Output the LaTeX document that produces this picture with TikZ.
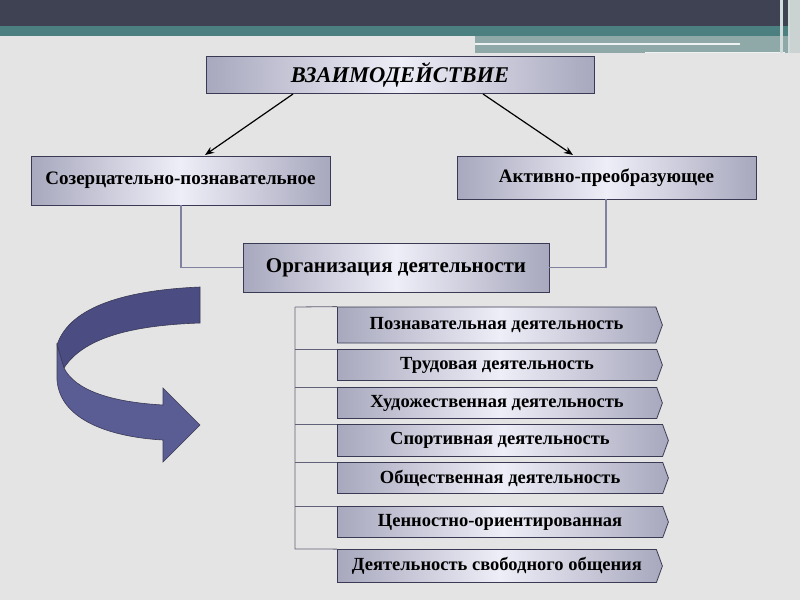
\documentclass[tikz,border=0pt]{standalone}
\usepackage{fontspec}
\setmainfont{Liberation Serif}
\usetikzlibrary{shapes.symbols,arrows.meta}
\definecolor{bg}{HTML}{E4E4E4}
\definecolor{band}{HTML}{3F4252}
\definecolor{teal}{HTML}{4B7F80}
\definecolor{lteal}{HTML}{8FA8A8}
\definecolor{edge}{HTML}{3A3A55}
\definecolor{boxside}{HTML}{A8A8BE}
\definecolor{boxmid}{HTML}{EEEEF8}
\definecolor{conn}{HTML}{8080A0}
\definecolor{arrA}{HTML}{4A4C82}
\definecolor{arrB}{HTML}{5A5C94}
\begin{document}
\begin{tikzpicture}[x=1pt,y=-1pt,
  bx/.style={draw=edge,line width=0.8pt,left color=boxside,right color=boxside,middle color=boxmid,
    font=\bfseries\fontsize{19}{21}\selectfont,inner sep=0pt},
  tag/.style={bx,signal,signal to=east,signal pointer angle=140,inner xsep=4pt,align=center,
    font=\bfseries\fontsize{18.5}{20}\selectfont},
  cl/.style={draw=conn,line width=1.2pt},
  br/.style={draw=edge!80,line width=0.8pt}]
\useasboundingbox (0,0) rectangle (800,600);
\fill[bg] (0,0) rectangle (800,600);
\fill[band] (0,0) rectangle (800,26);
\fill[teal] (0,26) rectangle (800,36);
\fill[lteal] (475,36) rectangle (790,53);
\draw[white!85!lteal,line width=1.5pt] (475,44) -- (740,44);
\draw[white!85!lteal,line width=1pt] (645,52) -- (785,52);
\fill[white!60!lteal] (780,0) rectangle (783,53);
\fill[white!60!lteal] (788,0) rectangle (790,53);
\fill[bg!70!lteal] (790,0) rectangle (800,53);

\node[bx,minimum width=388,minimum height=37,font=\bfseries\itshape\fontsize{22.5}{24}\selectfont] (top) at (400,74.5) {ВЗАИМОДЕЙСТВИЕ};
\node[bx,minimum width=299,minimum height=49] (l) at (180.5,180.5) {Созерцательно-познавательное};
\node[bx,minimum width=299,minimum height=43] (r) at (606.5,177.5) {Активно-преобразующее};
\node[bx,minimum width=306,minimum height=49,font=\bfseries\fontsize{21}{23}\selectfont] (o) at (396,267.5) {Организация деятельности};

\draw[-{Stealth[length=9pt,width=7pt]},line width=1.2pt] (293,94) -- (205,155);
\draw[-{Stealth[length=9pt,width=7pt]},line width=1.2pt] (483,94) -- (573,155);
\draw[cl] (l.south -| 181,0) |- (o.west);
\draw[cl] (r.south -| 606,0) |- (o.east);

\node[tag,minimum width=325,minimum height=36,anchor=west] (a1) at (337,325) {Познавательная деятельность};
\node[tag,minimum width=325,minimum height=31,anchor=west] (a2) at (337,365) {Трудовая деятельность};
\node[tag,minimum width=325,minimum height=31,anchor=west] (a3) at (337,403) {Художественная деятельность};
\node[tag,minimum width=331,minimum height=32,anchor=west] (a4) at (337,440.5) {Спортивная деятельность};
\node[tag,minimum width=331,minimum height=31,anchor=west] (a5) at (337,478) {Общественная деятельность};
\node[tag,minimum width=331,minimum height=31,anchor=west] (a6) at (337,522) {Ценностно-ориентированная};
\node[tag,minimum width=325,minimum height=33,anchor=west] (a7) at (337,566) {Деятельность свободного общения};

\coordinate (b0) at (295,307);
\draw[br] (b0) -- (295,549) -- (a7.north west);
\draw[br] (b0) -- (a1.north west);
\foreach \n in {2,...,6} \draw[br] (a\n.north west) -- (a\n.north west -| b0);

\fill[arrA,draw=edge,line width=0.6pt] (200,287) .. controls (130,290) and (70,305) .. (57,345)
  -- (64,368) .. controls (85,335) and (140,325) .. (200,323) -- cycle;
\fill[arrB,draw=edge,line width=0.6pt] (57,345) -- (57,380) .. controls (60,420) and (110,437) .. (163,440)
  -- (163,462) -- (200,425) -- (163,388) -- (163,405)
  .. controls (110,402) and (75,390) .. (64,368) -- cycle;
\end{tikzpicture}
\end{document}
